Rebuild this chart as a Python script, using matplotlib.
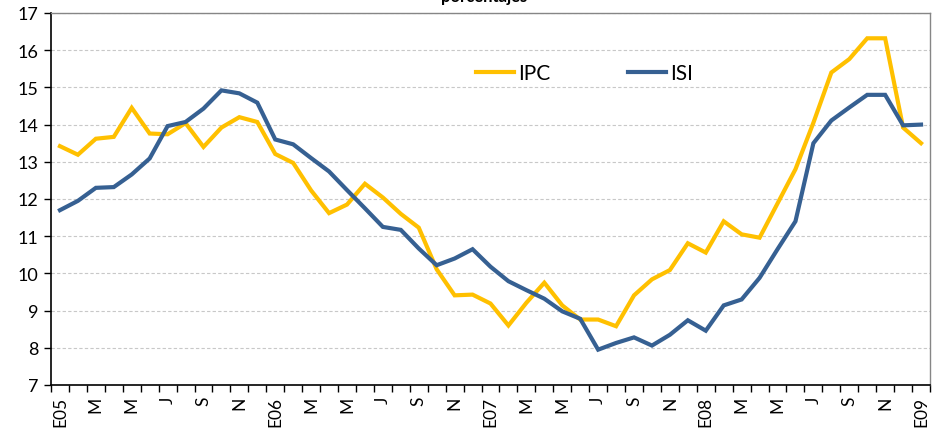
import numpy as np
import matplotlib
matplotlib.use("Agg")
import matplotlib.pyplot as plt
from matplotlib.ticker import FixedLocator

plt.rcParams["font.family"] = ["Lato", "DejaVu Sans"]

# Monthly series, January 2005 to January 2009 (percent)
ipc = [13.42, 13.19, 13.62, 13.67, 14.45, 13.76, 13.74, 14.04, 13.40, 13.92, 14.20, 14.07,
       13.21, 12.97, 12.23, 11.62, 11.85, 12.41, 12.04, 11.60, 11.23, 10.11, 9.41, 9.43,
       9.19, 8.60, 9.21, 9.75, 9.14, 8.76, 8.76, 8.58, 9.41, 9.84, 10.09, 10.81,
       10.56, 11.40, 11.05, 10.96, 11.88, 12.80, 14.05, 15.40, 15.76, 16.32, 16.32, 13.92,
       13.50]
isi = [11.70, 11.95, 12.30, 12.32, 12.66, 13.09, 13.96, 14.07, 14.43, 14.92, 14.84, 14.59,
       13.60, 13.47, 13.10, 12.74, 12.24, 11.75, 11.25, 11.17, 10.67, 10.22, 10.40, 10.65,
       10.18, 9.79, 9.55, 9.32, 8.98, 8.78, 7.95, 8.13, 8.28, 8.06, 8.35, 8.74,
       8.46, 9.14, 9.30, 9.88, 10.65, 11.40, 13.50, 14.11, 14.46, 14.80, 14.80, 13.98,
       14.00]
month_labels = ["E05", "M", "M", "J", "S", "N",
                "E06", "M", "M", "J", "S", "N",
                "E07", "M", "M", "J", "S", "N",
                "E08", "M", "M", "J", "S", "N",
                "E09"]

n = len(ipc)
x = np.arange(n)

fig = plt.figure(figsize=(9.33, 4.39), dpi=100)
ax = fig.add_axes([51 / 933, 1 - 386 / 439, 879 / 933, 372 / 439])

ax.plot(x, ipc, color="#FFC000", lw=3, label="IPC", solid_joinstyle="miter")
ax.plot(x, isi, color="#366092", lw=3, label="ISI", solid_joinstyle="miter")

ax.set_xlim(-0.5, n - 0.5)
ax.set_ylim(7, 17)
ax.set_yticks(range(7, 18))
ax.grid(axis="y", color="#c8c8c8", linestyle=(0, (3, 2)), lw=0.8)
ax.set_axisbelow(True)

# category labels every other month, tick marks between categories
ax.set_xticks(x[::2])
ax.set_xticklabels(month_labels, rotation=90, fontsize=12.5)
ax.tick_params(axis="x", which="major", length=0, pad=8)
ax.xaxis.set_minor_locator(FixedLocator(np.arange(-0.5, n, 1)))
ax.tick_params(axis="x", which="minor", length=5, width=1, direction="out")
ax.tick_params(axis="y", length=5, width=1, labelsize=13, pad=4)

for side in ("left", "bottom"):
    ax.spines[side].set_color("black")
    ax.spines[side].set_linewidth(1.2)
for side in ("top", "right"):
    ax.spines[side].set_color("#868686")
    ax.spines[side].set_linewidth(1)

ax.legend(ncol=2, frameon=False, fontsize=15, handlelength=1.8, handletextpad=0.2,
          columnspacing=3.75, borderpad=0, borderaxespad=0,
          loc="center left", bbox_to_anchor=(476 / 933, 1 - 74 / 439),
          bbox_transform=fig.transFigure)

fig.text(484 / 933, 1 - 2 / 439, "porcentajes", ha="center", va="baseline",
         fontsize=12, fontweight="bold")

fig.savefig("out.png", dpi=100)
